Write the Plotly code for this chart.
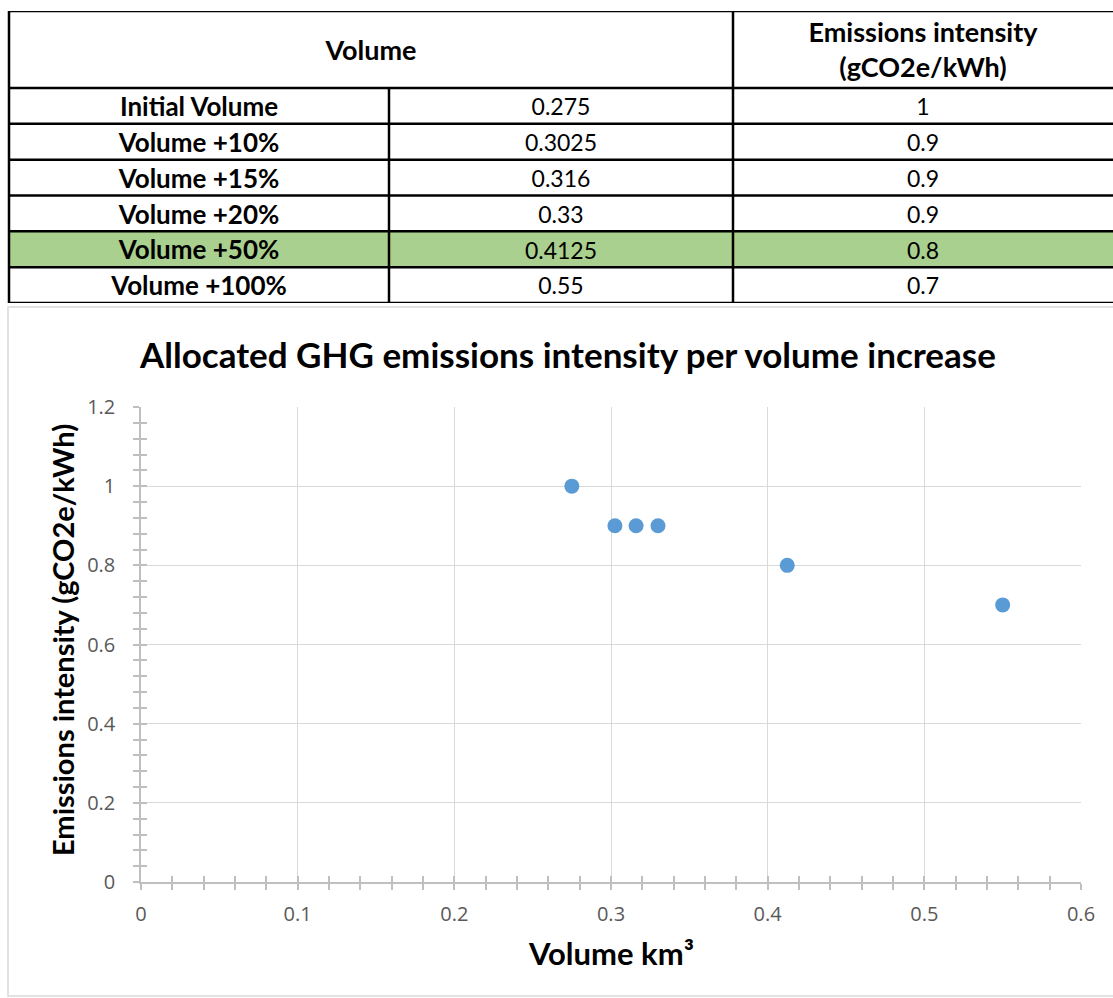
import plotly.graph_objects as go

# ---- data ----
row_labels = ["Initial Volume", "Volume +10%", "Volume +15%", "Volume +20%", "Volume +50%", "Volume +100%"]
volume_text = ["0.275", "0.3025", "0.316", "0.33", "0.4125", "0.55"]
volume = [0.275, 0.3025, 0.316, 0.33, 0.4125, 0.55]
intensity_text = ["1", "0.9", "0.9", "0.9", "0.8", "0.7"]
intensity = [1.0, 0.9, 0.9, 0.9, 0.8, 0.7]
highlight_row = 4
header_volume = "Volume"
header_intensity = "Emissions intensity<br>(gCO2e/kWh)"
chart_title = "Allocated GHG emissions intensity per volume increase"
x_title = "Volume km³"
y_title = "Emissions intensity (gCO2e/kWh)"

# ---- layout constants (pixels) ----
W, H = 1113, 998
TAB_TOP, TAB_BOT = 11, 303
HDR = 2.15  # header height in row units
TXT_DY = 0.1  # small downward nudge of text within a row
COL_EDGES = [9, 389, 733, W + 5]
PLOT_L, PLOT_R, PLOT_T, PLOT_B = 141, 1081, 407, 882

n = len(row_labels)
FONT_B = "Lato"
FONT_T = "Open Sans"

fig = go.Figure()

fig.add_trace(go.Scatter(
    x=volume, y=intensity, mode="markers",
    marker=dict(color="#5B9BD5", size=15, line=dict(width=0)),
    xaxis="x", yaxis="y", showlegend=False, hoverinfo="x+y"))
fig.add_trace(go.Scatter(
    x=volume, y=intensity, mode="markers", marker=dict(opacity=0),
    xaxis="x3", yaxis="y3", showlegend=False, hoverinfo="skip"))

col1_x = (COL_EDGES[0] + COL_EDGES[1]) / 2
col2_x = (COL_EDGES[1] + COL_EDGES[2]) / 2
col3_x = (COL_EDGES[2] + W) / 2
row_y = [HDR + i + 0.5 + TXT_DY for i in range(n)]
fig.add_trace(go.Scatter(
    x=[col1_x] * n, y=row_y, text=["<b>%s</b>" % t for t in row_labels], mode="text",
    textfont=dict(family=FONT_B, size=26, color="black"),
    xaxis="x2", yaxis="y2", showlegend=False, hoverinfo="skip"))
fig.add_trace(go.Scatter(
    x=[col2_x] * n, y=row_y, text=volume_text, mode="text",
    textfont=dict(family=FONT_B, size=23, color="black"),
    xaxis="x2", yaxis="y2", showlegend=False, hoverinfo="skip"))
fig.add_trace(go.Scatter(
    x=[col3_x] * n, y=row_y, text=intensity_text, mode="text",
    textfont=dict(family=FONT_B, size=23, color="black"),
    xaxis="x2", yaxis="y2", showlegend=False, hoverinfo="skip"))
fig.add_trace(go.Scatter(
    x=[(COL_EDGES[0] + COL_EDGES[2]) / 2, col3_x], y=[HDR / 2 + TXT_DY, HDR / 2 + TXT_DY],
    text=["<b>%s</b>" % header_volume, "<b>%s</b>" % header_intensity], mode="text",
    textfont=dict(family=FONT_B, size=27, color="black"),
    xaxis="x2", yaxis="y2", showlegend=False, hoverinfo="skip"))

shapes = []
shapes.append(dict(type="rect", xref="paper", yref="paper",
                   x0=8 / W, x1=(W + 20) / W, y0=(H - 996) / H, y1=(H - 307) / H,
                   line=dict(color="#D9D9D9", width=1.5), fillcolor="rgba(0,0,0,0)", layer="below"))
shapes.append(dict(type="rect", xref="x2", yref="y2",
                   x0=COL_EDGES[0], x1=COL_EDGES[3], y0=HDR + highlight_row, y1=HDR + highlight_row + 1,
                   fillcolor="#A9D08E", line=dict(width=0), layer="below"))
for yv in [0, HDR] + [HDR + i + 1 for i in range(n)]:
    shapes.append(dict(type="line", xref="x2", yref="y2", x0=COL_EDGES[0], x1=COL_EDGES[3],
                       y0=yv, y1=yv, line=dict(color="black", width=2.5)))
shapes.append(dict(type="line", xref="x2", yref="y2", x0=COL_EDGES[0], x1=COL_EDGES[0],
                   y0=0, y1=HDR + n, line=dict(color="black", width=2.5)))
shapes.append(dict(type="line", xref="x2", yref="y2", x0=COL_EDGES[1], x1=COL_EDGES[1],
                   y0=HDR, y1=HDR + n, line=dict(color="black", width=2.5)))
shapes.append(dict(type="line", xref="x2", yref="y2", x0=COL_EDGES[2], x1=COL_EDGES[2],
                   y0=0, y1=HDR + n, line=dict(color="black", width=2.5)))

xdom = [PLOT_L / W, PLOT_R / W]
ydom = [(H - PLOT_B) / H, (H - PLOT_T) / H]
grid_c = "#D9D9D9"
axis_c = "#BFBFBF"
tickfont = dict(family=FONT_T, size=20, color="#595959")

common_x = dict(range=[0, 0.6], domain=xdom, dtick=0.1, tick0=0, automargin=False)
common_y = dict(range=[0, 1.2], domain=ydom, dtick=0.2, tick0=0, automargin=False)

fig.update_layout(
    width=W, height=H, margin=dict(l=0, r=0, t=0, b=0, pad=0, autoexpand=False),
    paper_bgcolor="white", plot_bgcolor="white",
    showlegend=False,
    shapes=shapes,
    xaxis=dict(**common_x, anchor="y", showgrid=True, gridcolor=grid_c, gridwidth=1.3,
               showline=True, linecolor=axis_c, linewidth=1.5, zeroline=False,
               ticks="outside", ticklen=6, tickcolor=axis_c, tickwidth=1.5,
               minor=dict(dtick=0.02, ticks="outside", ticklen=6, tickcolor=axis_c, tickwidth=1.5, showgrid=False),
               tickfont=tickfont, ticklabelstandoff=7, tickformat="~g"),
    yaxis=dict(**common_y, anchor="x", showgrid=True, gridcolor=grid_c, gridwidth=1.3,
               showline=True, linecolor=axis_c, linewidth=1.5, zeroline=False,
               ticks="outside", ticklen=6, tickcolor=axis_c, tickwidth=1.5,
               minor=dict(dtick=0.04, ticks="outside", ticklen=6, tickcolor=axis_c, tickwidth=1.5, showgrid=False),
               tickfont=tickfont, ticklabelstandoff=14, tickformat="~g"),
    xaxis3=dict(**common_x, anchor="y3", overlaying="x", showgrid=False, showline=False, zeroline=False,
                ticks="inside", ticklen=6, tickcolor=axis_c, tickwidth=1.5, showticklabels=False,
                minor=dict(dtick=0.02, ticks="inside", ticklen=6, tickcolor=axis_c, tickwidth=1.5, showgrid=False)),
    yaxis3=dict(**common_y, anchor="x3", overlaying="y", showgrid=False, showline=False, zeroline=False,
                ticks="inside", ticklen=6, tickcolor=axis_c, tickwidth=1.5, showticklabels=False,
                minor=dict(dtick=0.04, ticks="inside", ticklen=6, tickcolor=axis_c, tickwidth=1.5, showgrid=False)),
    xaxis2=dict(domain=[0, 1], range=[0, W], visible=False, fixedrange=True, automargin=False),
    yaxis2=dict(domain=[(H - TAB_BOT) / H, (H - TAB_TOP) / H], range=[HDR + n, 0],
                visible=False, fixedrange=True, anchor="x2", automargin=False),
    annotations=[
        dict(text="<b>%s</b>" % chart_title, xref="paper", yref="paper",
             x=567 / W, y=(H - 354) / H, xanchor="center", yanchor="middle", showarrow=False,
             font=dict(family=FONT_B, size=35, color="black")),
        dict(text="<b>%s</b>" % x_title, xref="paper", yref="paper",
             x=(PLOT_L + PLOT_R) / 2 / W, y=(H - 953) / H, xanchor="center", yanchor="middle",
             showarrow=False, font=dict(family=FONT_B, size=31, color="black")),
        dict(text="<b>%s</b>" % y_title, xref="paper", yref="paper",
             x=62 / W, y=(H - 640) / H, xanchor="center", yanchor="middle", textangle=-90,
             showarrow=False, font=dict(family=FONT_B, size=29, color="black")),
    ],
)

fig.write_html("out.html")
